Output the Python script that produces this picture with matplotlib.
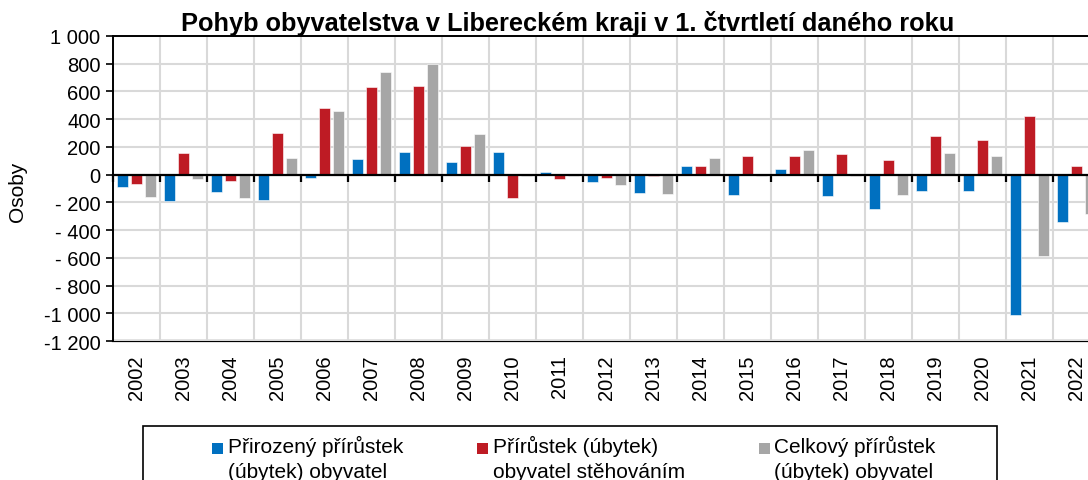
import matplotlib
matplotlib.use("Agg")
import matplotlib.pyplot as plt
import numpy as np
from matplotlib.patches import Rectangle, Patch
from matplotlib.legend_handler import HandlerPatch

plt.rcParams['font.family'] = ['Liberation Sans', 'DejaVu Sans']

years = [str(y) for y in range(2002, 2023)]
prirozeny = [-90, -190, -126, -181, -21, 112, 162, 90, 160, 21, -50, -131, 62, -150, 43, -157, -248, -117, -117, -1012, -345]
stehovani = [-67, 157, -43, 300, 479, 631, 636, 205, -171, -29, -26, -12, 62, 138, 138, 150, 102, 276, 248, 426, 62]
celkovy = [-162, -33, -172, 119, 458, 742, 797, 295, -11, -8, -77, -143, 122, -12, 181, -7, -146, 158, 131, -588, -283]

series = [
    ("Přirozený přírůstek\n(úbytek) obyvatel", prirozeny, "#0070C0"),
    ("Přírůstek (úbytek)\nobyvatel stěhováním", stehovani, "#BE1B24"),
    ("Celkový přírůstek\n(úbytek) obyvatel", celkovy, "#A6A6A6"),
]
yticks = [1000, 800, 600, 400, 200, 0, -200, -400, -600, -800, -1000, -1200]
ytick_labels = ["1 000", "800", "600", "400", "200", "0", "- 200", "- 400", "- 600", "- 800", "-1 000", "-1 200"]

W, H = 1088, 481
fig = plt.figure(figsize=(W / 100, H / 100), dpi=100)
left, right, top, bottom = 113, 1100, 37, 342
ax = fig.add_axes([left / W, 1 - bottom / H, (right - left) / W, (bottom - top) / H])

x = np.arange(len(years))
off = 0.3
bw = 0.235
for i, (lab, vals, col) in enumerate(series):
    ax.bar(x + (i - 1) * off, vals, width=bw, color=col, edgecolor='white', linewidth=0.4, zorder=3, label=lab)

ax.set_xlim(-0.5, len(years) - 0.5)
ax.set_ylim(-1200, 1000)
ax.set_yticks(yticks)
ax.set_yticklabels(ytick_labels, fontsize=14.5)
ax.tick_params(axis='y', length=5, width=1.2, direction='out', pad=4)

# grid
ax.set_xticks(np.arange(len(years) + 1) - 0.5, minor=True)
ax.grid(True, which='major', axis='y', color='#d9d9d9', linewidth=1.5, zorder=0)
ax.grid(True, which='minor', axis='x', color='#d9d9d9', linewidth=1.5, zorder=0)

# zero axis line with boundary ticks
ax.spines['bottom'].set_position(('data', 0))
ax.spines['bottom'].set_linewidth(1.6)
ax.spines['bottom'].set_zorder(4)
ax.set_xticks([])
ax.tick_params(axis='x', which='minor', length=5, width=1.6, direction='out', labelbottom=False)
for s in ['left', 'top', 'right']:
    ax.spines[s].set_linewidth(1.4)

sec = ax.secondary_xaxis('bottom')
sec.set_xticks(x)
sec.set_xticklabels(years, rotation=90, fontsize=14.5)
sec.tick_params(length=0, pad=9.5)
sec.spines['bottom'].set_linewidth(1.6)

fig.text(17 / W, 1 - 192 / H, "Osoby", rotation=90, ha='center', va='center', fontsize=15)

fig.text(568 / W, 1 - 31.5 / H, "Pohyb obyvatelstva v Libereckém kraji v 1. čtvrtletí daného roku",
         ha='center', va='baseline', fontsize=18.3, fontweight='bold')

# legend frame (extends below the figure edge)
fig.patches.append(Rectangle((143 / W, -0.05), (997 - 143) / W, 0.05 + (481 - 427) / H,
                             transform=fig.transFigure, facecolor='white', edgecolor='black',
                             linewidth=1.2, zorder=1))


def top_square(legend, orig_handle, xdescent, ydescent, width, height, fontsize):
    s = 7.9
    cx = -xdescent + width / 2
    cy = -ydescent + height / 2 + 7.2
    return Rectangle((cx - s / 2, cy - s / 2), s, s)


handles = [Patch(facecolor=c, edgecolor='none') for _, _, c in series]
leg = fig.legend(handles, [s[0] for s in series], loc='upper left',
                 bbox_to_anchor=(212 / W, 1 - 436 / H),
                 ncol=3, fontsize=15, frameon=False,
                 handletextpad=0.2, handlelength=0.55, columnspacing=3.55,
                 borderpad=0, borderaxespad=0, labelspacing=0,
                 handler_map={Patch: HandlerPatch(patch_func=top_square)})
for t in leg.get_texts():
    t.set_linespacing(1.38)
leg.set_zorder(2)

fig.savefig("out.png", dpi=100)
